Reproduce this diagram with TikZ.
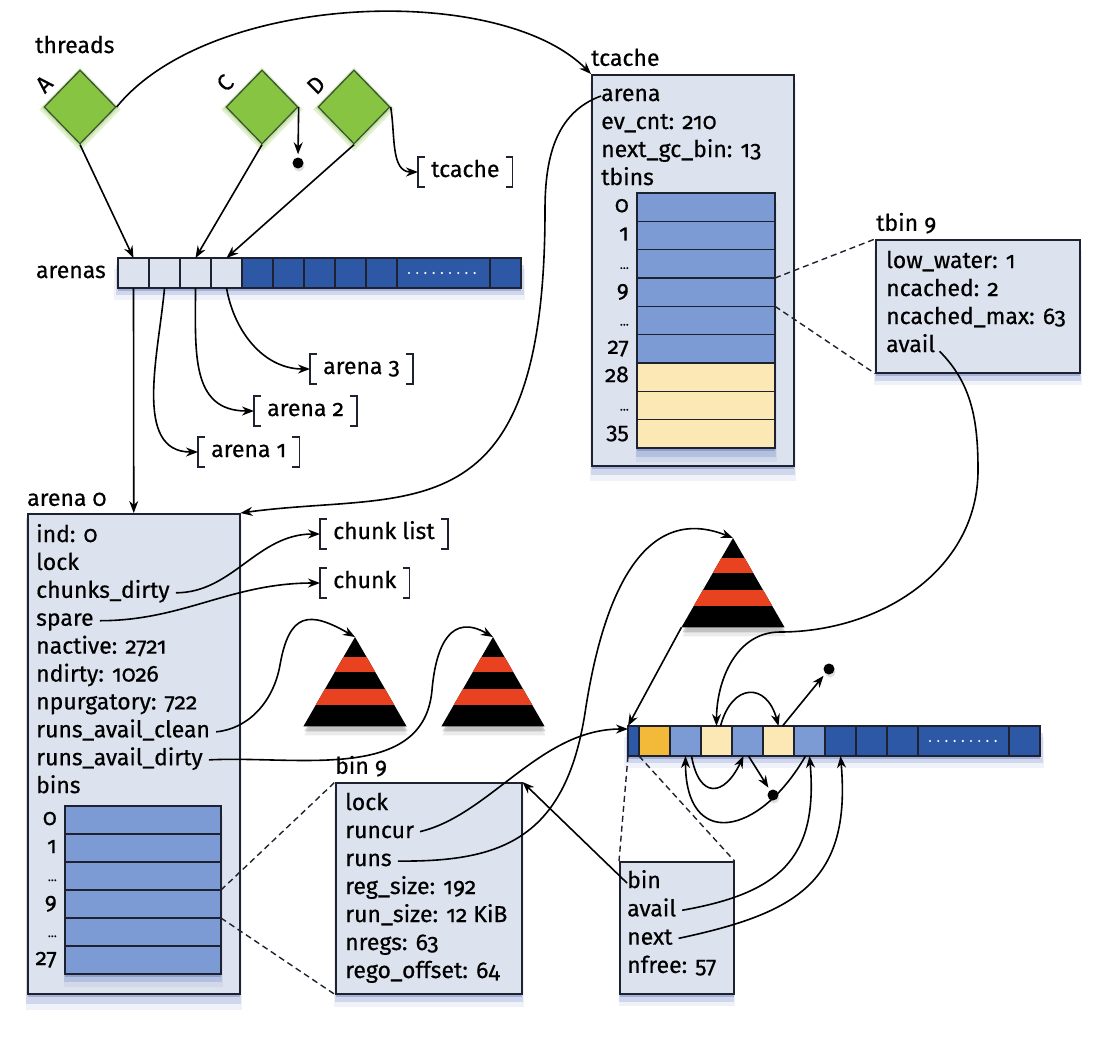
\documentclass[tikz,border=0pt]{standalone}
\usepackage{fontspec}
\setmainfont{Fira Sans}[Numbers=OldStyle, FakeBold=0.5]
\usetikzlibrary{arrows.meta, positioning, shapes.geometric, shadows}

\definecolor{boxfill}{RGB}{221,227,238}
\definecolor{boxline}{RGB}{30,34,48}
\definecolor{cellblue}{RGB}{124,155,212}
\definecolor{cellyellow}{RGB}{252,232,180}
\definecolor{darkcell}{RGB}{44,88,166}
\definecolor{orangecell}{RGB}{242,186,56}
\definecolor{treered}{RGB}{232,66,32}
\definecolor{thrgreen}{RGB}{134,196,66}
\definecolor{shadowblue}{RGB}{60,90,175}

\newcommand{\figfont}{\fontsize{23}{27}\selectfont}
\newcommand{\idxdots}{{\fontsize{12}{12}\selectfont\dots}}

\begin{document}
\begin{tikzpicture}[x=1pt, y=1pt, font=\figfont,
  softshadow/.style={
    drop shadow={shadow xshift=0pt, shadow yshift=-3pt, fill=shadowblue, opacity=0.3},
    drop shadow={shadow xshift=0pt, shadow yshift=-7pt, shadow scale=1.012, fill=shadowblue, opacity=0.18},
    drop shadow={shadow xshift=0pt, shadow yshift=-11pt, shadow scale=1.02, fill=shadowblue, opacity=0.08}},
  box/.style={draw=boxline, fill=boxfill, line width=1.5pt, inner sep=0pt, anchor=north west, softshadow},
  title/.style={inner sep=0pt, text height=16pt, text depth=6pt},
  field/.style={anchor=west, inner sep=0pt, text height=16pt, text depth=6pt},
  idx/.style={inner sep=0pt, text height=16pt, text depth=6pt, label distance=8pt},
  cell/.style={draw=boxline, line width=1.3pt, inner sep=0pt, outer sep=0pt, anchor=north west,
    minimum width=31pt, minimum height=30pt},
  arr/.style={fill=white, inner sep=0pt, anchor=north west, softshadow},
  dotrow/.style={path picture={\draw[white, line width=2.4pt, line cap=round, dash pattern=on 0pt off 8.2pt]
    ([xshift=12pt]path picture bounding box.west) -- ([xshift=-12pt]path picture bounding box.east);}},
  thread/.style={diamond, draw=boxline!70!thrgreen, fill=thrgreen, line width=1.3pt, inner sep=0pt,
    minimum width=72pt, minimum height=74pt,
    drop shadow={shadow xshift=0pt, shadow yshift=-2pt, shadow scale=1.14, fill=thrgreen, opacity=0.25},
    drop shadow={shadow xshift=0pt, shadow yshift=-1pt, shadow scale=1.07, fill=thrgreen, opacity=0.3}},
  tree/.style={regular polygon, regular polygon sides=3, minimum size=119pt, inner sep=0pt, outer sep=0pt,
    fill=black,
    drop shadow={shadow xshift=1pt, shadow yshift=-5pt, fill=black, opacity=0.18},
    drop shadow={shadow xshift=1pt, shadow yshift=-9pt, fill=black, opacity=0.08},
    path picture={
      \fill[treered] ([yshift=-20pt]path picture bounding box.north west) rectangle ([yshift=-35pt]path picture bounding box.north east);
      \fill[treered] ([yshift=-52pt]path picture bounding box.north west) rectangle ([yshift=-68pt]path picture bounding box.north east);}},
  nil/.style={circle, fill=black, minimum size=11pt, inner sep=0pt,
    drop shadow={shadow xshift=1pt, shadow yshift=-3pt, opacity=0.25}},
  bracket/.style={anchor=west, inner xsep=13pt, inner ysep=4pt, text height=16pt, text depth=6pt},
  brk/.style={boxline, line width=1.6pt},
  ptr/.style={-{Stealth[length=12pt, width=9pt]}, black, line width=1.6pt},
  fromfield/.style={shorten <=6pt},
  zoomline/.style={boxline, line width=1.4pt, dash pattern=on 6pt off 4pt}]

  \useasboundingbox (0,0) rectangle (1110,-1044);

  % Threads
  \node[field] (threadsT) at (35,-48) {threads};
  \node[thread] (thrA) at (80,-107) {};
  \node[thread] (thrC) at (262,-107) {};
  \node[thread] (thrD) at (354,-107) {};
  \node[rotate=45, inner sep=0pt] (thrAT) at ([shift={(-36,23)}]thrA.center) {A};
  \node[rotate=45, inner sep=0pt] (thrCT) at ([shift={(-37,24)}]thrC.center) {C};
  \node[rotate=45, inner sep=0pt] (thrDT) at ([shift={(-38,22)}]thrD.center) {D};
  \node[nil] (nilC) at (298,-163) {};
  \node[bracket] (brTc) at (418,-172) {tcache};

  % Arenas array
  \node[arr, minimum width=403, minimum height=30] (arenasArr) at (118,-258) {};
  \foreach \c [count=\i from 0] in {boxfill,boxfill,boxfill,boxfill,darkcell,darkcell,darkcell,darkcell,darkcell}
    \node[cell, fill=\c] (arc\i) at ({118+31*\i},-258) {};
  \node[cell, fill=darkcell, minimum width=93, dotrow] (arc9) at (397,-258) {};
  \node[cell, fill=darkcell] (arc10) at (490,-258) {};
  \node[title, left=12pt of arc0] (arenasT) {arenas};
  \node[bracket] (brA1) at (198,-452) {arena 1};
  \node[bracket] (brA2) at (254,-411) {arena 2};
  \node[bracket] (brA3) at (310,-369) {arena 3};

  % tcache
  \node[box, minimum width=202, minimum height=391] (tcache) at (591,-74) {};
  \node[title, above right=2pt and 0pt of tcache.north west] (tcacheT) {tcache};
  \foreach \t [count=\i from 0] in {arena, ev\_cnt: 210, next\_gc\_bin: 13, tbins}
    \node[field] (tcf\i) at (601,{-96-28*\i}) {\t};
  \node[arr, minimum width=138, minimum height=255] (tbArr) at (637,-193) {};
  \foreach \t/\c [count=\i from 0] in {0/cellblue, 1/cellblue, \idxdots/cellblue, 9/cellblue, \idxdots/cellblue,
      27/cellblue, 28/cellyellow, \idxdots/cellyellow, 35/cellyellow}
    \node[cell, fill=\c, minimum width=138, minimum height=28.33, label={[idx]left:\t}] (tbc\i) at (637,{-193-28.33*\i}) {};

  % tbin 9
  \node[box, minimum width=204, minimum height=133] (tbin9) at (875,-239) {};
  \node[title, above right=2pt and 1pt of tbin9.north west] (tbin9T) {tbin 9};
  \foreach \t [count=\i from 0] in {low\_water: 1, ncached: 2, ncached\_max: 63, avail}
    \node[field] (tbf\i) at (886,{-263-28*\i}) {\t};

  % arena 0
  \node[box, minimum width=212, minimum height=480] (arena0) at (27,-513) {};
  \node[title, above right=1pt and 0pt of arena0.north west] (arena0T) {arena 0};
  \foreach \t [count=\i from 0] in {ind: 0, lock, chunks\_dirty, spare, nactive: 2721, ndirty: 1026,
      npurgatory: 722, runs\_avail\_clean, runs\_avail\_dirty, bins}
    \node[field] (a0f\i) at (36,{-537-27.9*\i}) {\t};
  \node[arr, minimum width=156, minimum height=168] (binArr) at (65,-806) {};
  \foreach \t [count=\i from 0] in {0, 1, \idxdots, 9, \idxdots, 27}
    \node[cell, fill=cellblue, minimum width=156, minimum height=28, label={[idx]left:\t}] (bc\i) at (65,{-806-28*\i}) {};
  \node[bracket] (brCl) at (320,-534) {chunk list};
  \node[bracket] (brCh) at (320,-583) {chunk};

  % bin 9
  \node[box, minimum width=186, minimum height=211] (bin9) at (335,-782) {};
  \node[title, above right=2pt and 0pt of bin9.north west] (bin9T) {bin 9};
  \foreach \t [count=\i from 0] in {lock, runcur, runs, reg\_size: 192, run\_size: 12 KiB, nregs: 63, rego\_offset: 64}
    \node[field] (bf\i) at (345,{-805-28*\i}) {\t};

  % Run trees
  \node[tree] (tree1) at (355,-696.5) {};
  \node[tree] (tree2) at (493,-696.5) {};
  \node[tree] (tree3) at (733,-597.5) {};

  % Run
  \node[arr, minimum width=412, minimum height=30] (runArr) at (628,-726) {};
  \node[cell, fill=darkcell, minimum width=11] (rc0) at (628,-726) {};
  \foreach \c [count=\i from 1] in {orangecell,cellblue,cellyellow,cellblue,cellyellow,cellblue,darkcell,darkcell,darkcell}
    \node[cell, fill=\c] (rc\i) at ({639+31*(\i-1)},-726) {};
  \node[cell, fill=darkcell, minimum width=91, dotrow] (rc10) at (918,-726) {};
  \node[cell, fill=darkcell] (rc11) at (1009,-726) {};
  \node[box, minimum width=114, minimum height=132] (runhdr) at (619,-861) {};
  \foreach \t [count=\i from 0] in {bin, avail, next, nfree: 57}
    \node[field] (rhf\i) at (627,{-883-28.3*\i}) {\t};
  \node[nil] (nil2) at (829,-669) {};
  \node[nil] (nil3) at (773,-795) {};

  % Brackets
  \foreach \br in {brTc, brA1, brA2, brA3, brCl, brCh} {
    \draw[brk] ([xshift=7pt]\br.north west) -- (\br.north west) -- (\br.south west) -- ([xshift=7pt]\br.south west);
    \draw[brk] ([xshift=-7pt]\br.north east) -- (\br.north east) -- (\br.south east) -- ([xshift=-7pt]\br.south east);
  }

  % Thread pointers
  \draw[ptr] (thrA.east) .. controls (210,8) and (500,18) .. (tcache.north west);
  \draw[ptr] (thrA.south) -- (arc0.north);
  \draw[ptr] (thrC.south) -- (arc2.north);
  \draw[ptr] (thrD.south) -- (arc3.north);
  \draw[ptr, shorten >=3pt] (thrC.east) -- (nilC.north);
  \draw[ptr] (thrD.east) to[out=-80, in=180] (brTc.west);

  % Arena pointers
  \draw[ptr] (arc0.south) -- (arena0.north);
  \draw[ptr] (arc1.south) to[out=-95, in=180] (brA1.west);
  \draw[ptr] (arc2.south) to[out=-90, in=180, looseness=1.2] (brA2.west);
  \draw[ptr] (arc3.south) to[out=-80, in=180] (brA3.west);
  \draw[ptr] (tcf0.west) to[out=200, in=90] (545,-210) .. controls (545,-540) and (410,-490) .. (arena0.north east);

  % Zoomed entries
  \draw[zoomline] (tbc3.north east) -- (tbin9.north west);
  \draw[zoomline] (tbc3.south east) -- (tbin9.south west);
  \draw[zoomline] (bc3.north east) -- (bin9.north west);
  \draw[zoomline] (bc3.south east) -- (bin9.south west);
  \draw[zoomline] (rc0.south west) -- (runhdr.north west);
  \draw[zoomline] (rc0.south east) -- (runhdr.north east);

  % arena 0 fields
  \draw[ptr, fromfield] (a0f2.east) to[out=0, in=180] (brCl.west);
  \draw[ptr, fromfield] (a0f3.east) to[out=0, in=180] (brCh.west);
  \draw[ptr, fromfield] (a0f7.east) to[out=5, in=-100] (280,-665) to[out=80, in=150, looseness=1.7] (tree1.corner 1);
  \draw[ptr, fromfield] (a0f8.east) to[out=3, in=-95] (432,-690) to[out=85, in=150, looseness=1.5] (tree2.corner 1);

  % bin 9 fields
  \draw[ptr, fromfield] (bf1.east) .. controls (490,-815) and (540,-729) .. ([yshift=-3pt]rc0.north west);
  \draw[ptr, fromfield] (bf2.east) .. controls (500,-862) and (565,-840) .. (585,-713) .. controls (605,-580) and (650,-505) .. (tree3.corner 1);
  \draw[ptr] (tree3.corner 2) -- (rc0.north west);
  \draw[ptr] (rhf0.west) -- (bin9.north east);

  % tcache stack
  \draw[ptr, fromfield] (tbf3.east) to[out=-45, in=90] (978,-470) to[out=-90, in=0] (780,-632) to[out=180, in=90] (rc3.north);
  \draw[ptr] ([xshift=4pt]rc3.north) to[out=75, in=105, looseness=2] (rc5.north);
  \draw[ptr, shorten >=3pt] ([xshift=4pt]rc5.north) -- (nil2);

  % run free list
  \draw[ptr, fromfield] (rhf1.east) to[out=10, in=-85, looseness=1.3] (rc6.south);
  \draw[ptr, fromfield] (rhf2.east) to[out=12, in=-85, looseness=1.3] (rc7.south);
  \draw[ptr] ([xshift=-4pt]rc6.south) to[out=-120, in=-90, looseness=2] (rc2.south);
  \draw[ptr] ([xshift=6pt]rc2.south) to[out=-80, in=-115, looseness=2.2] ([xshift=-4pt]rc4.south);
  \draw[ptr, shorten >=3pt] ([xshift=1pt]rc4.south) -- (nil3);
\end{tikzpicture}
\end{document}
